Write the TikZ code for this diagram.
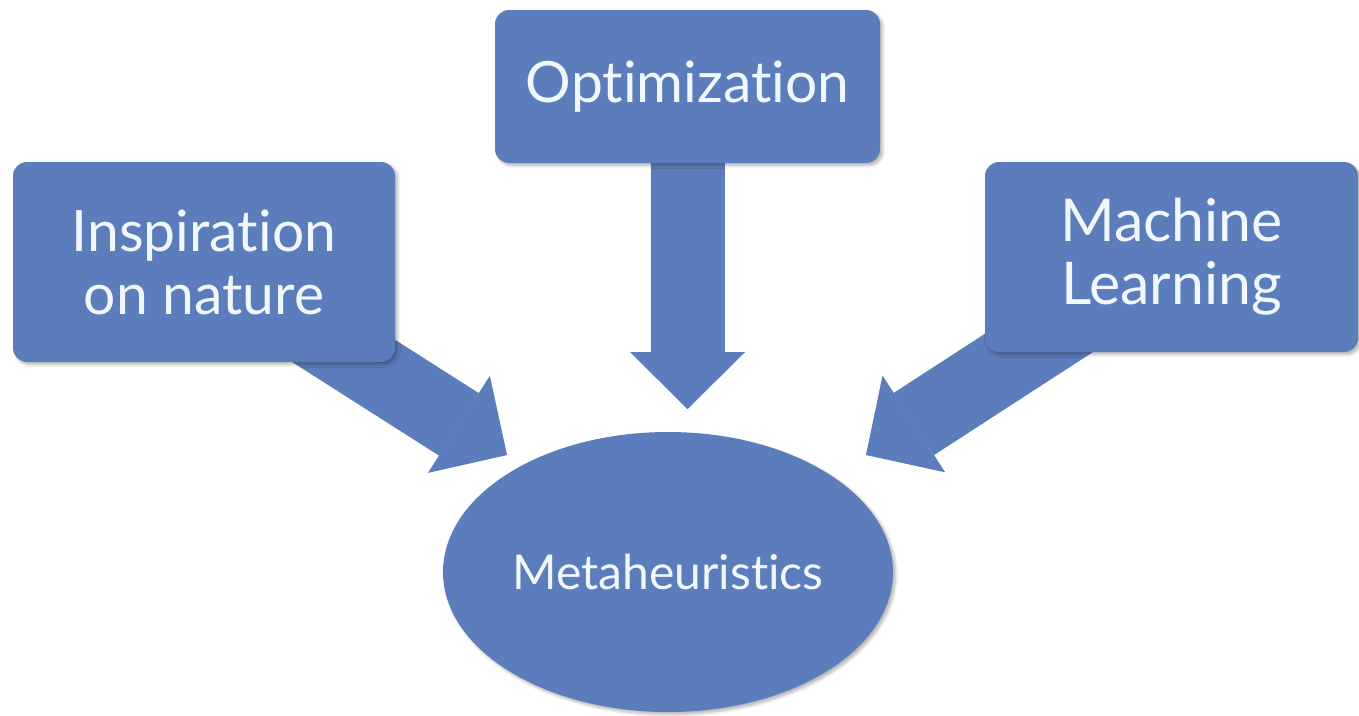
\documentclass[tikz,border=0pt]{standalone}
\usepackage{fontspec}
\setmainfont{Lato}[Ligatures=NoCommon]
\usetikzlibrary{arrows.meta,shadows.blur,shapes.geometric}
\definecolor{boxblue}{RGB}{92,125,187}
\definecolor{txtwhite}{RGB}{242,246,255}
\pgfdeclarelayer{bg}
\pgfsetlayers{bg,main}
\begin{document}
\begin{tikzpicture}[x=1pt,y=-1pt,
  box/.style={fill=boxblue, rounded corners=14pt, inner sep=0pt, align=center, text=txtwhite,
    blur shadow={shadow xshift=2.5pt, shadow yshift=-2.5pt, shadow opacity=30, shadow blur steps=6, shadow blur radius=3pt}},
  bigfont/.style={font=\fontsize{57}{63}\selectfont},
  blockarrow/.style={draw=boxblue, line width=74pt, -{Triangle[length=57pt,width=115pt,line width=0pt]}},
  arrowshade/.style={draw=black, line width=74pt, -{Triangle[length=57pt,width=115pt,line width=0pt]}},
]
\useasboundingbox (0,0) rectangle (1359,715);

\node[box, bigfont, minimum width=382pt, minimum height=200pt] (insp) at (204,262) {Inspiration\\on nature};
\node[box, bigfont, minimum width=385pt, minimum height=153pt] (opt) at (687.5,86.5) {Optimization};
\node[box, font=\fontsize{59}{63}\selectfont, minimum width=373pt, minimum height=190pt] (ml) at (1171.5,257) {Machine\\Learning};
\node[box, ellipse, minimum width=450pt, minimum height=280pt, font=\fontsize{48}{56}\selectfont] (meta) at (668,572) {Metaheuristics};

\coordinate (tipL) at (507,455);
\coordinate (tipD) at (687.5,409);
\coordinate (tipR) at (866,455);

\begin{pgfonlayer}{bg}
  \begin{scope}[transparency group, opacity=0.18, shift={(3,3)}]
    \draw[arrowshade] (insp.center) -- (tipL);
    \draw[arrowshade] (opt.center) -- (tipD);
    \draw[arrowshade] (ml.center) -- (tipR);
  \end{scope}
  \draw[blockarrow] (insp.center) -- (tipL);
  \draw[blockarrow] (opt.center) -- (tipD);
  \draw[blockarrow] (ml.center) -- (tipR);
\end{pgfonlayer}
\end{tikzpicture}
\end{document}
